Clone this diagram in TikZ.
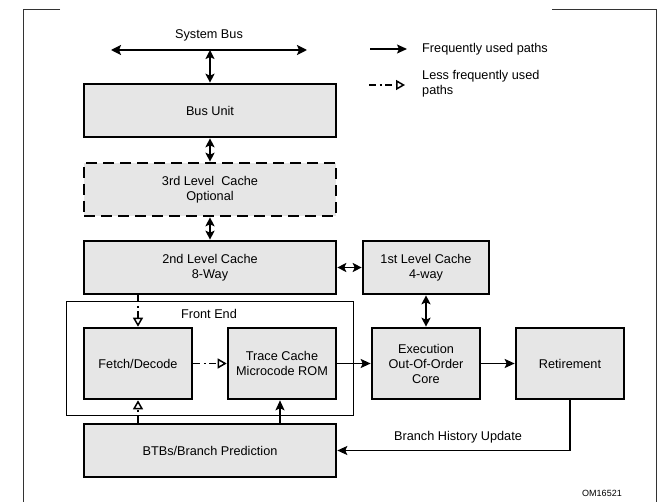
\documentclass[tikz,border=0pt]{standalone}
\usepackage{fontspec}
\setmainfont{Liberation Sans}
\usetikzlibrary{arrows.meta}
\definecolor{boxgray}{HTML}{E6E6E6}
\definecolor{framegray}{HTML}{333333}
\newcommand\diagfont{\fontsize{12.7}{15}\selectfont}
\newcommand\tagfont{\fontsize{9}{10}\selectfont}

\tikzset{
  unitbox/.style={draw=black, line width=2.6pt, fill=boxgray, align=center,
    inner sep=0pt, font=\diagfont},
  optbox/.style={unitbox, dash pattern=on 11pt off 6pt},
  groupframe/.style={draw=black, line width=1pt, inner sep=0pt},
  plain/.style={font=\diagfont, inner sep=0pt},
  freq/.style={line width=1.8pt, -{Stealth[length=10pt,width=9pt,inset=2pt]}},
  freqthin/.style={line width=1.4pt, -{Stealth[length=10pt,width=9pt,inset=2pt]}},
  duplex/.style={line width=1.8pt,
    {Stealth[length=9pt,width=9pt,inset=2pt]}-{Stealth[length=9pt,width=9pt,inset=2pt]}},
  buswide/.style={line width=1.9pt,
    {Stealth[length=10pt,width=10pt,inset=2pt]}-{Stealth[length=10pt,width=10pt,inset=2pt]}},
  lessfreq/.style={line width=1.8pt, dash pattern=on 7pt off 3.5pt on 2pt off 3.5pt,
    -{Triangle[open,length=9pt,width=10pt,line width=1.5pt]}},
  outline/.style={draw=framegray, line width=1pt},
}

\begin{document}
\begin{tikzpicture}[x=1pt,y=-1pt]
  \useasboundingbox[fill=white] (0,0) rectangle (664,502);

  % page frame (top edge broken around the heading area)
  \draw[outline] (60,9.5) -- (23,9.5) -- (23,502);
  \draw[outline] (552,9.5) -- (656,9.5) -- (656,502);

  % system bus
  \coordinate (busL) at (111,50);
  \coordinate (busR) at (307,50);
  \coordinate (busM) at (210,50);
  \node[plain] (sysbus) at (209,35) {System Bus};
  \draw[buswide] (busL) -- (busR);

  % front end grouping
  \node[groupframe, minimum width=287pt, minimum height=114pt] (fe) at (209.5,359) {};
  \node[plain] (felabel) at (209,314) {Front End};

  % units
  \node[unitbox, minimum width=252pt, minimum height=53pt] (bus) at (210,110.5) {Bus Unit};
  \node[optbox, minimum width=252pt, minimum height=53pt] (l3) at (210,189.5) {3rd Level~~Cache\\Optional};
  \node[unitbox, minimum width=252pt, minimum height=53pt] (l2) at (210,267.5) {2nd Level Cache\\8-Way};
  \node[unitbox, minimum width=126pt, minimum height=53pt] (l1) at (426,267.5) {1st Level Cache\\4-way};
  \node[unitbox, minimum width=108pt, minimum height=71pt] (fetch) at (138,363.5) {Fetch/Decode};
  \node[unitbox, minimum width=108pt, minimum height=71pt] (trace) at (282,363.5) {Trace Cache\\Microcode ROM};
  \node[unitbox, minimum width=108pt, minimum height=71pt] (exec) at (426,363.5) {Execution\\Out-Of-Order\\Core};
  \node[unitbox, minimum width=108pt, minimum height=71pt] (ret) at (570,363.5) {Retirement};
  \node[unitbox, minimum width=252pt, minimum height=53pt] (btb) at (210,450.5) {BTBs/Branch Prediction};

  % connections
  \draw[duplex] (busM) -- (bus.north);
  \draw[duplex] (bus.south) -- (l3.north);
  \draw[duplex] (l3.south) -- (l2.north);
  \draw[duplex] (l2.east) -- (l1.west);
  \draw[duplex] (l1.south) -- (exec.north);
  \draw[lessfreq] (l2.south -| fetch.north) -- (fetch.north);
  \draw[lessfreq] (btb.north -| fetch.south) -- (fetch.south);
  \draw[lessfreq] (fetch.east) -- (trace.west);
  \coordinate (btbup) at (280,424);
  \draw[freqthin] (btbup) -- (btbup |- trace.south);
  \draw[freq] (trace.east) -- (exec.west);
  \draw[freq] (exec.east) -- (ret.west);
  \draw[freqthin] (ret.south) |- (btb.east);
  \node[plain] (bhu) at (458,437) {Branch History Update};

  % legend
  \coordinate (lgA1) at (370,49);
  \coordinate (lgA2) at (407,49);
  \coordinate (lgB1) at (369,85);
  \coordinate (lgB2) at (405,85);
  \draw[freqthin] (lgA1) -- (lgA2);
  \draw[lessfreq] (lgB1) -- (lgB2);
  \node[plain, anchor=west] (lgAtext) at (422,49) {Frequently used paths};
  \node[plain, anchor=west, align=left] (lgBtext) at (422,84) {Less frequently used\\paths};

  \node[font=\tagfont, inner sep=0pt] (tag) at (602,493) {OM16521};
\end{tikzpicture}
\end{document}
